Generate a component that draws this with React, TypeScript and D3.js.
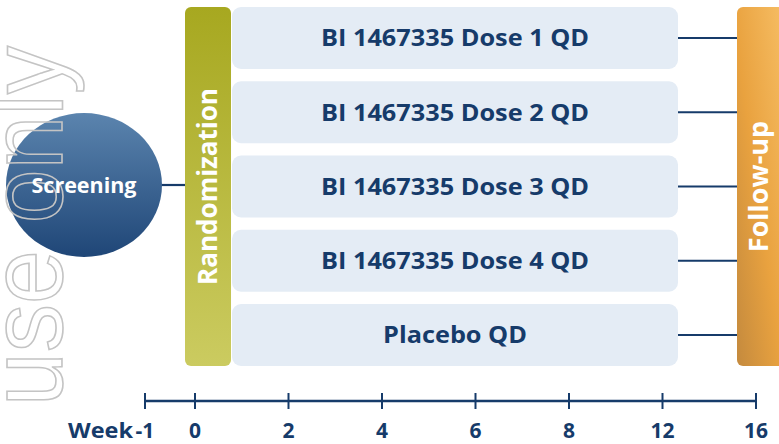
import React from "react";
import * as d3 from "d3";

const arms = [
  "BI 1467335 Dose 1 QD",
  "BI 1467335 Dose 2 QD",
  "BI 1467335 Dose 3 QD",
  "BI 1467335 Dose 4 QD",
  "Placebo QD",
];
const phases = ["Screening", "Randomization", "Follow-up"];
const preWeek = "-1";
const weekTicks = ["0", "2", "4", "6", "8", "12", "16"];
const axisTitle = "Week";
const watermark = "use only";

const W = 779;
const H = 444;
const NAVY = "#163b6a";
const FONT = "'Open Sans', sans-serif";

export default function App() {
  const y = d3.scaleBand<string>().domain(arms).range([7, 366]).paddingInner(0.165).paddingOuter(0);
  const x = d3.scalePoint<string>().domain(weekTicks).range([195, 756]);
  const step = x.step();
  const xPre = (x("0") as number) - step * 0.535;
  const allTicks = [{ label: preWeek, pos: xPre }, ...weekTicks.map((t) => ({ label: t, pos: x(t) as number }))];

  const boxX0 = 232;
  const boxX1 = 678;
  const randX0 = 185;
  const randX1 = 231;
  const fuX0 = 737;
  const top = y.range()[0];
  const bottom = y.range()[1];
  const midY = (top + bottom) / 2;
  const circ = { cx: 84, cy: 185, rx: 78, ry: 72 };
  const axisY = 401;

  return (
    <svg width={W} height={H} style={{ position: "absolute", left: 0, top: 0, background: "#fff" }}>
      <defs>
        <linearGradient id="gCirc" x1="0" y1="0" x2="0" y2="1">
          <stop offset="0" stopColor="#5b84ae" />
          <stop offset="1" stopColor="#1f4677" />
        </linearGradient>
        <linearGradient id="gRand" x1="0" y1="0" x2="0" y2="1">
          <stop offset="0" stopColor="#a7a820" />
          <stop offset="1" stopColor="#cbcb60" />
        </linearGradient>
        <linearGradient id="gFu" x1="0" y1="1" x2="1" y2="0">
          <stop offset="0" stopColor="#c48a3e" />
          <stop offset="0.45" stopColor="#e9a23f" />
          <stop offset="1" stopColor="#f7bf66" />
        </linearGradient>
      </defs>

      {/* connectors */}
      <line x1={circ.cx + circ.rx - 2} x2={randX0} y1={circ.cy} y2={circ.cy} stroke={NAVY} strokeWidth={2.2} />
      {arms.map((a) => {
        const cy = (y(a) as number) + y.bandwidth() / 2;
        return <line key={"c" + a} x1={boxX1} x2={fuX0} y1={cy} y2={cy} stroke={NAVY} strokeWidth={2.2} />;
      })}

      {/* screening circle */}
      <ellipse cx={circ.cx} cy={circ.cy} rx={circ.rx} ry={circ.ry} fill="url(#gCirc)" />

      {/* watermark */}
      <text
        transform={`translate(62,406) rotate(-90)`}
        fontFamily="'Liberation Sans', Arial, sans-serif"
        fontSize={104}
        fill="none"
        stroke="#c4c4c4"
        strokeWidth={1.6}
        textLength={360}
        lengthAdjust="spacingAndGlyphs"
      >
        {watermark}
      </text>

      <text
        transform={`translate(${circ.cx},${circ.cy})`}
        textAnchor="middle"
        dy="0.36em"
        fontFamily={FONT}
        fontWeight={700}
        fontSize={21.5}
        fill="#fff"
      >
        {phases[0]}
      </text>

      {/* randomization */}
      <rect x={randX0} y={top} width={randX1 - randX0} height={bottom - top} rx={6} fill="url(#gRand)" />
      <text
        transform={`translate(${(randX0 + randX1) / 2},${midY}) rotate(-90)`}
        textAnchor="middle"
        dy="0.36em"
        fontFamily={FONT}
        fontWeight={700}
        fontSize={26}
        fill="#fff"
      >
        {phases[1]}
      </text>

      {/* arms */}
      {arms.map((a) => {
        const y0 = y(a) as number;
        const cy = y0 + y.bandwidth() / 2;
        return (
          <g key={a}>
            <rect x={boxX0} y={y0} width={boxX1 - boxX0} height={y.bandwidth()} rx={9} fill="#e4ecf5" />
            <text
              transform={`translate(${(boxX0 + boxX1) / 2},${cy}) scale(1.1,1)`}
              textAnchor="middle"
              dy="0.36em"
              fontFamily={FONT}
              fontWeight={700}
              fontSize={23}
              fill={NAVY}
            >
              {a}
            </text>
          </g>
        );
      })}

      {/* follow-up */}
      <rect x={fuX0} y={top} width={W - fuX0 + 8} height={bottom - top} rx={6} fill="url(#gFu)" />
      <text
        transform={`translate(${(fuX0 + W) / 2},${midY}) rotate(-90)`}
        textAnchor="middle"
        dy="0.36em"
        fontFamily={FONT}
        fontWeight={700}
        fontSize={27}
        fill="#fff"
      >
        {phases[2]}
      </text>

      {/* axis */}
      <line x1={xPre} x2={x("16") as number} y1={axisY} y2={axisY} stroke={NAVY} strokeWidth={2.5} />
      {allTicks.map((t) => (
        <g key={"t" + t.label}>
          <line x1={t.pos} x2={t.pos} y1={axisY - 8} y2={axisY + 8} stroke={NAVY} strokeWidth={2} />
          <text x={t.pos} y={438} textAnchor="middle" fontFamily={FONT} fontWeight={700} fontSize={21} fill={NAVY}>
            {t.label}
          </text>
        </g>
      ))}
      <text
        transform={`translate(${xPre - 12},438) scale(1.12,1)`}
        textAnchor="end"
        fontFamily={FONT}
        fontWeight={700}
        fontSize={21}
        fill={NAVY}
      >
        {axisTitle}
      </text>
    </svg>
  );
}
